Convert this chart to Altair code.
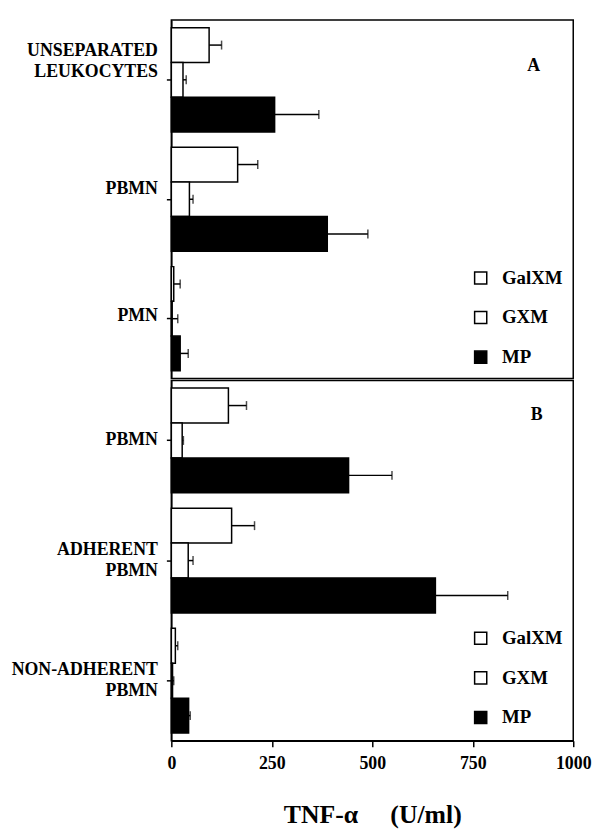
import altair as alt
import pandas as pd

FONT = "Liberation Serif"

series = ["GalXM", "GXM", "MP"]
fills = ["white", "white", "black"]

groups_a = ["UNSEPARATED\nLEUKOCYTES", "PBMN", "PMN"]
galxm_a = [94, 165, 6]
galxm_a_err = [125, 215, 22]
gxm_a = [29, 45, 2]
gxm_a_err = [37, 54, 16]
mp_a = [257, 388, 22]
mp_a_err = [367, 489, 42]

groups_b = ["PBMN", "ADHERENT\nPBMN", "NON-ADHERENT\nPBMN"]
galxm_b = [142, 150, 10]
galxm_b_err = [187, 207, 16]
gxm_b = [27, 42, 3]
gxm_b_err = [30, 54, 6]
mp_b = [441, 657, 43]
mp_b_err = [549, 837, 47]

x_ticks = [0, 250, 500, 750, 1000]
x_title = "TNF-\u03b1\u00a0\u00a0\u00a0\u00a0\u00a0(U/ml)"


def make_df(groups, vals, errs):
    rows = []
    for gi, g in enumerate(groups):
        for si, s in enumerate(series):
            rows.append({"group": g, "series": s,
                         "value": vals[si][gi], "upper": errs[si][gi]})
    return pd.DataFrame(rows)


df_a = make_df(groups_a, [galxm_a, gxm_a, mp_a], [galxm_a_err, gxm_a_err, mp_a_err])
df_b = make_df(groups_b, [galxm_b, gxm_b, mp_b], [galxm_b_err, gxm_b_err, mp_b_err])

W = 406


def panel(df, groups, letter, letter_x, letter_y, x_axis, conds, default_off, h):
    y = alt.Y("group:N", sort=groups,
              scale=alt.Scale(domain=groups, paddingInner=0, paddingOuter=0),
              axis=alt.Axis(title=None, labelExpr="split(datum.label, '\\n')",
                            labelFont=FONT, labelFontWeight="bold", labelFontSize=18,
                            labelLineHeight=21, labelColor="black", labelPadding=9,
                            labelOffset={"condition": conds, "value": default_off},
                            tickSize=5, tickColor="black", tickWidth=1.5,
                            domainColor="black", domainWidth=1.5, grid=False))
    yoff = alt.YOffset("series:N", sort=series,
                       scale=alt.Scale(domain=series, paddingInner=0, paddingOuter=0.22))
    x = alt.X("value:Q", scale=alt.Scale(domain=[0, 1000], nice=False, zero=True), axis=x_axis)

    bars = alt.Chart(df).mark_bar(stroke="black", strokeWidth=1.5).encode(
        x=x, y=y, yOffset=yoff,
        fill=alt.Fill("series:N", sort=series,
                      scale=alt.Scale(domain=series, range=fills),
                      legend=alt.Legend(orient="none", legendX=303, legendY=251, title=None,
                                        symbolType="square", symbolSize=150,
                                        symbolStrokeColor="black", symbolStrokeWidth=1.5,
                                        labelFont=FONT, labelFontSize=19, labelFontWeight="bold",
                                        labelColor="black", labelOffset=12, rowPadding=20,
                                        padding=0)))
    stem = alt.Chart(df).mark_bar(size=1.5, color="black").encode(
        x=alt.X("value:Q"), x2="upper:Q", y=y, yOffset=yoff)
    cap = alt.Chart(df).mark_tick(color="black", thickness=1.5, size=9).encode(
        x=alt.X("upper:Q"), y=y, yOffset=yoff)
    label = alt.Chart(pd.DataFrame({"t": [letter]})).mark_text(
        font=FONT, fontWeight="bold", fontSize=18, color="black").encode(
        text="t:N", x=alt.value(letter_x), y=alt.value(letter_y))
    return alt.layer(bars, stem, cap, label).properties(width=W, height=h)


axis_b = alt.Axis(values=x_ticks, format="d", title=x_title,
                  titleFont=FONT, titleFontSize=26, titleFontWeight="bold", titleColor="black",
                  titlePadding=30, labelFont=FONT, labelFontSize=18, labelFontWeight="bold",
                  labelColor="black", labelPadding=8, labelFlush=False, tickSize=6,
                  tickColor="black", tickWidth=1.5, domainColor="black", domainWidth=1.5,
                  grid=False)

conds_a = [{"test": "indexof(datum.value, '\\n') >= 0", "value": -29},
           {"test": "datum.value == 'PMN'", "value": -3}]
conds_b = [{"test": "indexof(datum.value, '\\n') >= 0", "value": -10.5}]

pa = panel(df_a, groups_a, "A", 366, 46, None, conds_a, -10, 362)
pb = panel(df_b, groups_b, "B", 369, 35, axis_b, conds_b, 0, 364)

chart = alt.vconcat(pa, pb, spacing=0).resolve_scale(
    y="independent", yOffset="independent", fill="independent"
).resolve_legend(fill="independent").properties(
    padding={"left": 2, "top": 7, "right": 5, "bottom": 0},
    background="white"
).configure_view(stroke="black", strokeWidth=1.5)

chart.save("out.html", embed_options={"renderer": "svg", "actions": False})
